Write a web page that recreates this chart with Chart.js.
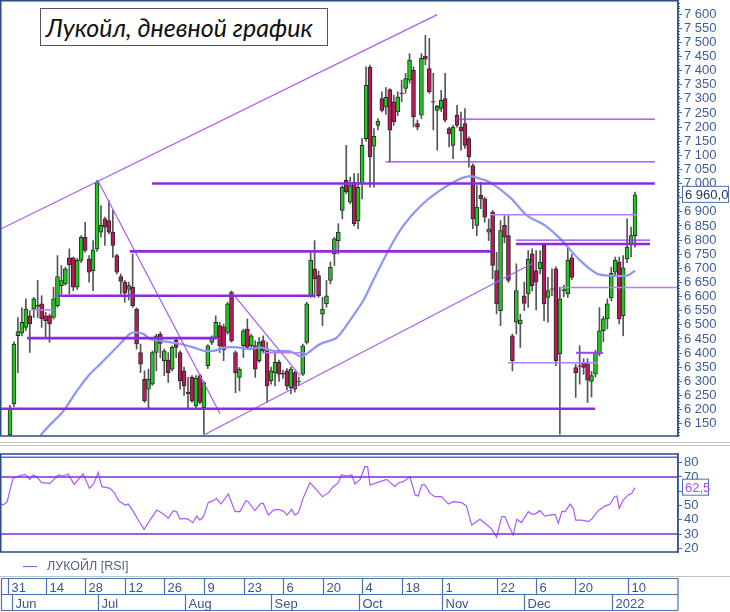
<!DOCTYPE html>
<html>
<head>
<meta charset="utf-8">
<script src="https://cdn.jsdelivr.net/npm/chart.js@4.4.0/dist/chart.umd.min.js"></script>
<style>
  body { margin: 0; background: #fff; width: 730px; height: 612px; overflow: hidden; position: relative; }
  #main { position: absolute; left: 0; top: 0; }
  #rsi { position: absolute; left: 0; top: 440px; }
  #title {
    position: absolute; left: 40px; top: 8px; width: 281px; height: 36px;
    border: 1px solid #555; background: #fff;
    font: italic 25px 'Lato', 'Liberation Sans', sans-serif; color: #111;
    line-height: 36px; padding-left: 5px; box-sizing: content-box; white-space: nowrap;
  }
</style>
</head>
<body>
<canvas id="main" width="730" height="437"></canvas>
<canvas id="rsi" width="730" height="172"></canvas>
<div id="title">Лукойл, дневной график</div>
<script>
// дневные свечи (31 мая 2021 – 11 января 2022)
const opens = [6110,6220,6462,6471,6491,6532,6556,6570,6574,6532,6532,6526,6568,6639,6645,6737,6737,6633,6728,6810,
  6733,6692,6769,6828,6875,6869,6828,6745,6671,6651,6625,6633,6556,6402,6308,6272,6290,6402,6467,6373,
  6375,6343,6446,6402,6337,6262,6314,6213,6320,6207,6355,6438,6455,6497,6493,6473,6615,6402,6314,6426,
  6485,6426,6426,6373,6444,6408,6302,6331,6367,6328,6337,6278,6331,6298,6325,6438,6603,6698,6674,6538,
  6574,6657,6751,6798,6905,7011,6934,7005,6869,7000,7159,7411,7132,7206,7301,7270,7333,7289,7254,7320,
  7337,7366,7401,7212,7242,7451,7407,7290,7259,7266,7301,7195,7135,7242,7200,7212,7159,7064,6852,6958,
  6946,6828,6899,6692,6550,6852,6816,6461,6509,6503,6603,6609,6751,6692,6698,6781,6597,6627,6698,6397,
  6620,6609,6737,6349,6355,6367,6363,6300,6325,6397,6479,6521,6595,6686,6722,6532,6733,6787,6816];
const highs = [6215,6440,6526,6560,6592,6550,6597,6657,6603,6544,6538,6633,6745,6710,6704,6769,6740,6735,6816,6863,
  6745,6798,7011,6922,6881,6940,6905,6750,6680,6657,6651,6751,6560,6432,6337,6343,6408,6467,6475,6414,
  6402,6426,6455,6408,6350,6314,6320,6320,6326,6300,6430,6461,6532,6509,6503,6580,6620,6408,6349,6485,
  6521,6467,6444,6455,6461,6438,6350,6402,6375,6340,6345,6350,6337,6315,6432,6580,6763,6798,6690,6597,
  6657,6722,6810,6858,6993,7135,7023,7035,7035,7160,7413,7419,7195,7230,7325,7340,7336,7313,7325,7366,
  7390,7460,7413,7225,7460,7525,7514,7390,7277,7330,7390,7200,7206,7277,7253,7265,7165,7070,6993,7005,
  6952,6875,6905,6757,6869,6887,6887,6467,6716,6538,6651,6763,6769,6763,6763,6787,6668,6698,6705,6633,
  6640,6775,6750,6361,6426,6380,6380,6335,6410,6561,6530,6592,6704,6740,6740,6745,6875,6846,6970];
const lows = [6090,6210,6331,6461,6479,6402,6526,6526,6491,6455,6438,6520,6562,6609,6640,6609,6621,6625,6720,6757,
  6651,6621,6760,6810,6781,6822,6739,6680,6609,6580,6588,6562,6414,6331,6225,6207,6286,6337,6384,6320,
  6296,6337,6384,6272,6250,6207,6225,6207,6220,6114,6345,6430,6450,6402,6373,6467,6438,6260,6266,6384,
  6414,6420,6314,6367,6400,6225,6290,6284,6300,6310,6270,6255,6262,6285,6320,6432,6597,6597,6597,6497,
  6562,6645,6710,6751,6875,6964,6928,6850,6840,6946,7150,6987,6987,7190,7254,7245,7076,7206,7240,7289,
  7320,7355,7200,7190,7230,7420,7319,7190,7118,7255,7218,7130,7088,7200,7118,7124,7058,6840,6816,6911,
  6863,6798,6663,6539,6497,6790,6650,6337,6467,6420,6550,6562,6620,6553,6680,6515,6509,6603,6355,6113,
  6600,6597,6660,6243,6290,6325,6225,6245,6315,6390,6440,6485,6585,6675,6503,6461,6720,6740,6775];
const closes = [6205,6432,6476,6509,6556,6503,6592,6565,6521,6515,6503,6592,6671,6657,6698,6713,6633,6728,6810,6763,
  6686,6765,7005,6852,6846,6828,6781,6686,6654,6612,6639,6568,6432,6361,6231,6308,6402,6461,6434,6408,
  6331,6420,6420,6302,6284,6255,6231,6311,6225,6296,6426,6455,6509,6426,6411,6574,6444,6331,6343,6479,
  6420,6461,6343,6438,6408,6284,6337,6367,6325,6325,6284,6343,6272,6300,6426,6574,6728,6663,6603,6556,
  6603,6704,6804,6828,6987,6970,6993,6858,6987,7135,7348,7094,7167,7221,7259,7305,7189,7218,7307,7318,
  7372,7437,7236,7200,7443,7440,7325,7288,7273,7295,7224,7177,7200,7206,7186,7135,7094,6875,6917,6946,
  6881,6839,6710,6574,6834,6810,6657,6373,6621,6517,6576,6733,6639,6651,6722,6574,6621,6625,6373,6592,
  6625,6728,6668,6331,6353,6349,6304,6320,6402,6479,6521,6574,6682,6728,6521,6702,6775,6816,6960];

// скользящая средняя (индекс свечи, цена)
const maIdx = [7,8,13.5,16.9,20.2,22.8,25.3,27.8,30.3,31.6,33.7,35.4,37.9,43,46.3,48.9,51.4,54.8,57.3,60.7,63.2,66.6,
  70.8,73.7,75,78.4,82.6,85.9,89.3,91.8,95.2,98.6,101.9,105.3,108.7,112.9,116.3,118.8,121.3,126.4,130.7,135.2,
  139,144.1,148.4,151.7,156,158];
const maVal = [6070,6113,6195,6266,6326,6361,6397,6432,6468,6473,6468,6450,6444,6432,6420,6408,6408,6420,6420,6414,6420,6408,
  6406,6387,6397,6432,6455,6515,6586,6657,6751,6834,6893,6940,6976,7011,7026,7017,7005,6951,6887,6852,
  6806,6728,6681,6674,6674,6692];

// RSI
const rsiIdx = [-2.5,-1.7,-0.7,0,0.8,2.1,3.8,5,5.9,6.7,8,10.1,11.4,12.2,13.5,14.7,16.2,17.3,18.5,20.1,21.2,22.3,23.2,
  25.3,26.5,27.4,29.1,29.9,31.2,32.4,33.9,35.4,37.1,38.8,40,41.3,42.1,43,44.2,45.1,46.2,47.2,48,48.9,50.1,51.4,52.2,
  53.3,55.2,56.9,58.1,59.6,60.2,61.9,63.4,64,65.3,66.6,67.8,69.1,70,71.2,72,72.9,74.1,75.8,77.5,79,80.5,81.7,83,
  83.8,85.1,86.4,87.2,88.5,89.7,90.4,91,92.3,93.5,95.2,97.3,98.2,99.4,101.1,102.4,103.2,104.1,104.9,106.2,107.4,
  109.1,110.8,112.1,114.2,115.4,116.7,118.8,120.9,121.8,123,124.3,125.1,126,127.2,128.1,129.3,131,131.9,132.7,
  134,135.2,136.5,137.8,138.6,139.5,140.3,141.6,142.4,143,144.5,146.2,147,148.7,150.4,151.7,152.8,153.4,154,155,
  156.3,157.2,158];
const rsiVal = [51.5,50.3,52.7,60.9,69,70.7,71.8,68.3,71.4,70.2,66,65.5,69,71.4,70.7,72.1,64.8,68.3,72.1,62,65.5,73.2,63.2,
  62,58.5,53.4,50.3,51,45.7,39.8,33.3,39.8,46.8,44,41,46.4,45.7,40.5,41,40.3,38,42.6,39.8,42.2,52,53.4,55,
  51,58.1,45.7,45.7,53.4,52.7,46.4,51.5,51.5,43.3,46.8,47.3,46.1,43.3,47.3,43.3,45,55,66,60.9,56.2,59,63.2,66,
  71.6,70.7,71.4,65.1,68.3,77.2,77.2,64.4,65.5,66.7,68.3,63.2,66,66.7,70.2,57.4,56.7,64.4,64.4,58.5,56.2,
  56.2,51,52.7,52,49.6,36.3,40.3,35.6,33.3,27.7,42.2,42.2,36.3,29.3,40.3,38,45.7,44,44,
  46.4,42.6,43.3,43.8,37.5,45.7,45.7,51,48,39.8,39.8,38.7,40.3,46.4,49.6,51,56.2,56.7,48,53.8,
  57.4,58.5,62.5];
const rsiLevels = [30, 70, 83.8];

// уровни: цена, от свечи, до свечи, тип
const levelPrice = [7000, 7077, 7228, 6760, 6603, 6453, 6203, 6553, 6401, 6890, 6800, 6786, 6632, 6366, 6401];
const levelFrom  = [35.9, 95, 112.7, 30.3, 12.1, 4.3, -2.5, 5.3, 63.7, 121.3, 127.9, 127.9, 139, 125.9, 143.1];
const levelTo    = [163, 163, 163, 121.8, 77.1, 52.3, 147.9, 10.9, 74.6, 158.5, 161.8, 161.8, 168.9, 148.6, 149.9];
const levelKind  = ['thick','thin','thin','thick','thick','thick','thick','light','light','light','thin','thick','light','light','mid'];

// трендовые линии
const trendX1 = [-2.5, 49, 22.2, 56.1];
const trendY1 = [6838, 6110, 7011, 6614];
const trendX2 = [108, 132, 53.1, 73.3];
const trendY2 = [7598, 6717, 6185, 6320];

// подписи дат
const dayLabels = ['31','14','28','12','26','9','23','6','20','4','18','1','22','6','20','10'];
const dayEdges = [-0.6, 9.0, 19.0, 29.1, 39.0, 49.0, 59.2, 69.1, 79.0, 89.1, 99.0, 109.1, 123.2, 133.0, 142.8, 156.3];
const monthLabels = ['Jun','Jul','Aug','Sep','Oct','Nov','Dec','2022'];
const monthEdges = [0.4, 22.3, 44.2, 65.9, 88.2, 109.1, 130.0, 152.1];

const lastPrice = 6960;
const lastRsi = 62.5;

const X_MIN = -2.275, X_MAX = 168.86;
const FONT = "'Liberation Sans', Arial, sans-serif";
Chart.defaults.font.family = FONT;

const estilos = {
  thick: { color: 'rgb(138,43,226)', width: 2.6 },
  mid:   { color: 'rgb(150,70,235)', width: 2 },
  thin:  { color: 'rgb(145,60,230)', width: 1.3 },
  light: { color: 'rgb(185,125,250)', width: 1.5 }
};
const AXIS = '#4a70b0';
const BORDER = '#2b4c85';

function fmt(v) {
  return String(v).replace(/\B(?=(\d{3})+(?!\d))/g, ' ');
}

const idx = opens.map((_, i) => i);
const bodyColors = idx.map(i => closes[i] >= opens[i] ? 'rgb(30,200,30)' : 'rgb(185,25,90)');

const lineDatasets = [];
levelPrice.forEach((p, k) => {
  const st = estilos[levelKind[k]];
  lineDatasets.push({
    type: 'line', data: [{ x: levelFrom[k], y: p }, { x: levelTo[k], y: p }],
    borderColor: st.color, borderWidth: st.width, pointRadius: 0, order: 0
  });
});
trendX1.forEach((x, k) => {
  lineDatasets.push({
    type: 'line', data: [{ x: x, y: trendY1[k] }, { x: trendX2[k], y: trendY2[k] }],
    borderColor: 'rgb(170,95,245)', borderWidth: 1.3, pointRadius: 0, order: 0
  });
});

// рамка, мелкие засечки и метка цены
const mainDeco = {
  id: 'mainDeco',
  afterDraw(chart) {
    const { ctx, chartArea: a, scales: { y } } = chart;
    ctx.save();
    ctx.strokeStyle = AXIS;
    ctx.lineWidth = 1;
    for (let v = 6110; v <= 7640; v += 10) {
      if (v % 50 === 0) continue;
      const py = Math.round(y.getPixelForValue(v)) + 0.5;
      ctx.beginPath(); ctx.moveTo(a.right, py); ctx.lineTo(a.right + 2, py); ctx.stroke();
    }
    ctx.strokeStyle = BORDER;
    ctx.lineWidth = 1.5;
    ctx.strokeRect(0.75, 0.75, a.right - 0.75, a.bottom - 0.75);
    const py = y.getPixelForValue(lastPrice);
    ctx.fillStyle = '#fff';
    ctx.fillRect(682, py - 8, 46, 16);
    ctx.strokeStyle = AXIS; ctx.lineWidth = 1;
    ctx.strokeRect(682.5, py - 8.5, 46, 16);
    ctx.fillStyle = '#1d3560';
    ctx.font = '13px ' + FONT;
    ctx.textBaseline = 'middle';
    ctx.fillText(fmt(Math.floor(lastPrice)) + ',' + (lastPrice % 1 * 10).toFixed(0), 685, py + 0.5);
    ctx.restore();
  }
};

new Chart(document.getElementById('main').getContext('2d'), {
  type: 'bar',
  data: {
    datasets: [
      ...lineDatasets,
      {
        type: 'line', data: maIdx.map((x, k) => ({ x: x, y: maVal[k] })),
        borderColor: 'rgb(140,150,245)', borderWidth: 2.2, pointRadius: 0, tension: 0.3, order: 1
      },
      {
        type: 'bar', data: idx.map(i => ({ x: i, y: [opens[i], closes[i]] })),
        backgroundColor: bodyColors, borderColor: '#2a2a2a', borderWidth: 1, borderSkipped: false,
        barThickness: 4, grouped: false, order: 5
      },
      {
        type: 'bar', data: idx.map(i => ({ x: i, y: [lows[i], highs[i]] })),
        backgroundColor: '#555', barThickness: 1, grouped: false, order: 6
      }
    ]
  },
  options: {
    responsive: false,
    animation: false,
    layout: { padding: { left: 1, top: 0, right: 0, bottom: 1 } },
    plugins: { legend: { display: false }, tooltip: { enabled: false } },
    scales: {
      x: { type: 'linear', min: X_MIN, max: X_MAX, offset: false, display: false },
      y: {
        position: 'right', min: 6106.5, max: 7649.7,
        afterFit(s) { s.width = 52; s.paddingTop = 0; s.paddingBottom = 0; },
        grid: { drawOnChartArea: false, drawTicks: true, tickLength: 4, color: AXIS },
        border: { display: true, color: AXIS, width: 1.5 },
        ticks: {
          stepSize: 50, includeBounds: false, autoSkip: false, padding: 2, color: '#3d5d95',
          font: { size: 13 }, callback: v => fmt(v)
        }
      }
    }
  },
  plugins: [mainDeco]
});

// нижняя панель: рамка, легенда, шкала дат
const rsiDeco = {
  id: 'rsiDeco',
  afterDraw(chart) {
    const { ctx, chartArea: a, scales: { x, y } } = chart;
    ctx.save();
    ctx.strokeStyle = '#c4c4c4'; ctx.lineWidth = 1;
    [2.5, 5.5, 136.5].forEach(py => {
      ctx.beginPath(); ctx.moveTo(0, py); ctx.lineTo(730, py); ctx.stroke();
    });
    ctx.strokeStyle = BORDER; ctx.lineWidth = 1.5;
    ctx.strokeRect(0.75, a.top, a.right - 0.75, a.bottom - a.top);

    // легенда
    ctx.strokeStyle = 'rgb(165,90,245)'; ctx.lineWidth = 1.2;
    ctx.beginPath(); ctx.moveTo(23, 126.5); ctx.lineTo(37, 126.5); ctx.stroke();
    ctx.fillStyle = '#56627a';
    ctx.font = '12.5px ' + FONT; ctx.textBaseline = 'middle';
    ctx.fillText('ЛУКОЙЛ [RSI]', 47, 127);

    // метка RSI
    const py = y.getPixelForValue(lastRsi);
    ctx.fillStyle = '#fff'; ctx.fillRect(682, py - 8, 26, 16);
    ctx.strokeStyle = AXIS; ctx.lineWidth = 1;
    ctx.strokeRect(682.5, py - 8.5, 26, 16);
    ctx.fillStyle = 'rgb(170,80,245)';
    ctx.font = '13px ' + FONT;
    ctx.fillText(String(lastRsi).replace('.', ','), 685, py + 0.5);

    // шкала дат
    const r1 = 138.5, r2 = 154.5, r3 = 170.5, right = a.right;
    ctx.strokeStyle = AXIS; ctx.lineWidth = 1.2;
    [r1, r2, r3].forEach(ry => {
      ctx.beginPath(); ctx.moveTo(1, ry); ctx.lineTo(right, ry); ctx.stroke();
    });
    const vline = (px, ya, yb) => { ctx.beginPath(); ctx.moveTo(px, ya); ctx.lineTo(px, yb); ctx.stroke(); };
    vline(1.5, r1, r3); vline(right, r1, r3);
    ctx.fillStyle = '#3b5680'; ctx.font = '13px ' + FONT; ctx.textBaseline = 'alphabetic';
    dayEdges.forEach((e, k) => {
      const px = Math.round(x.getPixelForValue(e)) + 0.5;
      vline(px, r1, r2);
      ctx.fillText(dayLabels[k], px + 3, r1 + 13);
    });
    monthEdges.forEach((e, k) => {
      const px = Math.round(x.getPixelForValue(e)) + 0.5;
      vline(px, r2, r3);
      ctx.fillText(monthLabels[k], px + 3, r2 + 13);
    });
    ctx.restore();
  }
};

const rsiLevelSets = rsiLevels.map((v, k) => ({
  type: 'line', data: [{ x: X_MIN, y: v }, { x: X_MAX, y: v }],
  borderColor: k < 2 ? 'rgb(120,45,220)' : 'rgb(110,90,230)', borderWidth: 1.4, pointRadius: 0
}));

new Chart(document.getElementById('rsi').getContext('2d'), {
  type: 'line',
  data: {
    datasets: [
      ...rsiLevelSets,
      {
        data: rsiIdx.map((x, k) => ({ x: x, y: rsiVal[k] })),
        borderColor: 'rgb(170,90,250)', borderWidth: 1.2, pointRadius: 0
      }
    ]
  },
  options: {
    responsive: false,
    animation: false,
    layout: { padding: { left: 1, top: 14, right: 0, bottom: 60 } },
    plugins: { legend: { display: false }, tooltip: { enabled: false } },
    scales: {
      x: { type: 'linear', min: X_MIN, max: X_MAX, offset: false, display: false },
      y: {
        position: 'right', min: 17.4, max: 86.1,
        afterFit(s) { s.width = 52; s.paddingTop = 0; s.paddingBottom = 0; },
        grid: { drawOnChartArea: false, drawTicks: true, tickLength: 4, color: AXIS },
        border: { display: true, color: AXIS, width: 1.5 },
        ticks: { stepSize: 10, includeBounds: false, autoSkip: false, padding: 2, color: '#3d5d95', font: { size: 13 } }
      }
    }
  },
  plugins: [rsiDeco]
});
</script>
</body>
</html>
